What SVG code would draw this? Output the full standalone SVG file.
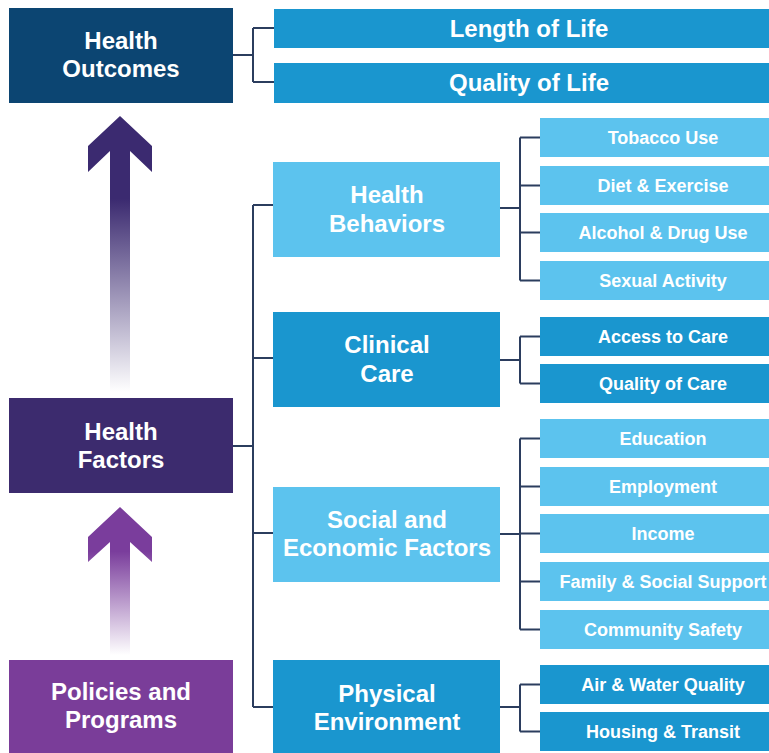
<svg xmlns="http://www.w3.org/2000/svg" width="769" height="753" viewBox="0 0 769 753">
<defs>
<linearGradient id="g1" gradientUnits="userSpaceOnUse" x1="0" y1="116" x2="0" y2="392">
<stop offset="0" stop-color="#3b2a70"/>
<stop offset="0.3" stop-color="#3b2a70"/>
<stop offset="1" stop-color="#3b2a70" stop-opacity="0"/>
</linearGradient>
<linearGradient id="g2" gradientUnits="userSpaceOnUse" x1="0" y1="507" x2="0" y2="655">
<stop offset="0" stop-color="#7a3d9c"/>
<stop offset="0.3" stop-color="#7a3d9c"/>
<stop offset="1" stop-color="#7a3d9c" stop-opacity="0"/>
</linearGradient>
</defs>
<style>
.h{font-family:"Liberation Sans",Arial,sans-serif;font-weight:bold;font-size:24px;fill:#ffffff;text-anchor:middle}
.s{font-family:"Liberation Sans",Arial,sans-serif;font-weight:bold;font-size:18px;fill:#ffffff;text-anchor:middle}
.navy{fill:#0c4572}
.hf{fill:#3c2b6e}
.pp{fill:#7a3d99}
.mb{fill:#1a96cf}
.lb{fill:#5cc3ee}
.c{fill:none;stroke:#2b3d5e;stroke-width:2}
</style>
<rect width="769" height="753" fill="#ffffff"/>

<g id="arrows">
<path d="M120,116 L152,146 L152,172 L130,151 L130,392 L110,392 L110,151 L88,172 L88,146 Z" fill="url(#g1)"/>
<path d="M120,507 L152,537 L152,562 L130,542 L130,655 L110,655 L110,542 L88,562 L88,537 Z" fill="url(#g2)"/>
</g>

<g id="connectors">
<path class="c" d="M233,55 H253 M253,28 V82 M253,28 H274 M253,82 H274"/>
<path class="c" d="M233,446 H253 M253,205 V707 M253,205 H273 M253,358 H273 M253,533 H273 M253,707 H273"/>
<path class="c" d="M500,208 H520 M520,137.5 V280.5 M520,137.5 H540 M520,185.5 H540 M520,232.5 H540 M520,280.5 H540"/>
<path class="c" d="M500,360 H520 M520,336.5 V383.5 M520,336.5 H540 M520,383.5 H540"/>
<path class="c" d="M500,534 H520 M520,438.5 V629.5 M520,438.5 H540 M520,486.5 H540 M520,533.5 H540 M520,581.5 H540 M520,629.5 H540"/>
<path class="c" d="M500,707 H520 M520,684.5 V731.5 M520,684.5 H540 M520,731.5 H540"/>
</g>

<g id="health-outcomes"><rect class="navy" x="9" y="8" width="224" height="95"/><text class="h" x="121" y="49">Health</text><text class="h" x="121" y="77">Outcomes</text></g>
<g id="health-factors"><rect class="hf" x="9" y="398" width="224" height="95"/><text class="h" x="121" y="440">Health</text><text class="h" x="121" y="468">Factors</text></g>
<g id="policies"><rect class="pp" x="9" y="660" width="224" height="93"/><text class="h" x="121" y="700">Policies and</text><text class="h" x="121" y="728">Programs</text></g>

<g id="length-of-life"><rect class="mb" x="274" y="9" width="495" height="39"/><text class="h" x="529" y="37">Length of Life</text></g>
<g id="quality-of-life"><rect class="mb" x="274" y="63" width="495" height="40"/><text class="h" x="529" y="91">Quality of Life</text></g>

<g id="health-behaviors"><rect class="lb" x="273" y="162" width="227" height="95"/><text class="h" x="387" y="203">Health</text><text class="h" x="387" y="232">Behaviors</text></g>
<g id="clinical-care"><rect class="mb" x="273" y="312" width="227" height="95"/><text class="h" x="387" y="353">Clinical</text><text class="h" x="387" y="382">Care</text></g>
<g id="social-economic"><rect class="lb" x="273" y="487" width="227" height="95"/><text class="h" x="387" y="528">Social and</text><text class="h" x="387" y="556">Economic Factors</text></g>
<g id="physical-environment"><rect class="mb" x="273" y="660" width="227" height="93"/><text class="h" x="387" y="702">Physical</text><text class="h" x="387" y="730">Environment</text></g>

<g id="tobacco"><rect class="lb" x="540" y="118" width="229" height="39"/><text class="s" x="663" y="144">Tobacco Use</text></g>
<g id="diet"><rect class="lb" x="540" y="166" width="229" height="39"/><text class="s" x="663" y="192">Diet &amp; Exercise</text></g>
<g id="alcohol"><rect class="lb" x="540" y="213" width="229" height="39"/><text class="s" x="663" y="239">Alcohol &amp; Drug Use</text></g>
<g id="sexual"><rect class="lb" x="540" y="261" width="229" height="39"/><text class="s" x="663" y="287">Sexual Activity</text></g>

<g id="access"><rect class="mb" x="540" y="317" width="229" height="39"/><text class="s" x="663" y="343">Access to Care</text></g>
<g id="quality-care"><rect class="mb" x="540" y="364" width="229" height="39"/><text class="s" x="663" y="390">Quality of Care</text></g>

<g id="education"><rect class="lb" x="540" y="419" width="229" height="39"/><text class="s" x="663" y="445">Education</text></g>
<g id="employment"><rect class="lb" x="540" y="467" width="229" height="39"/><text class="s" x="663" y="493">Employment</text></g>
<g id="income"><rect class="lb" x="540" y="514" width="229" height="39"/><text class="s" x="663" y="540">Income</text></g>
<g id="family"><rect class="lb" x="540" y="562" width="229" height="39"/><text class="s" x="663" y="588">Family &amp; Social Support</text></g>
<g id="community"><rect class="lb" x="540" y="610" width="229" height="39"/><text class="s" x="663" y="636">Community Safety</text></g>

<g id="air-water"><rect class="mb" x="540" y="665" width="229" height="39"/><text class="s" x="663" y="691">Air &amp; Water Quality</text></g>
<g id="housing"><rect class="mb" x="540" y="712" width="229" height="39"/><text class="s" x="663" y="738">Housing &amp; Transit</text></g>
</svg>
